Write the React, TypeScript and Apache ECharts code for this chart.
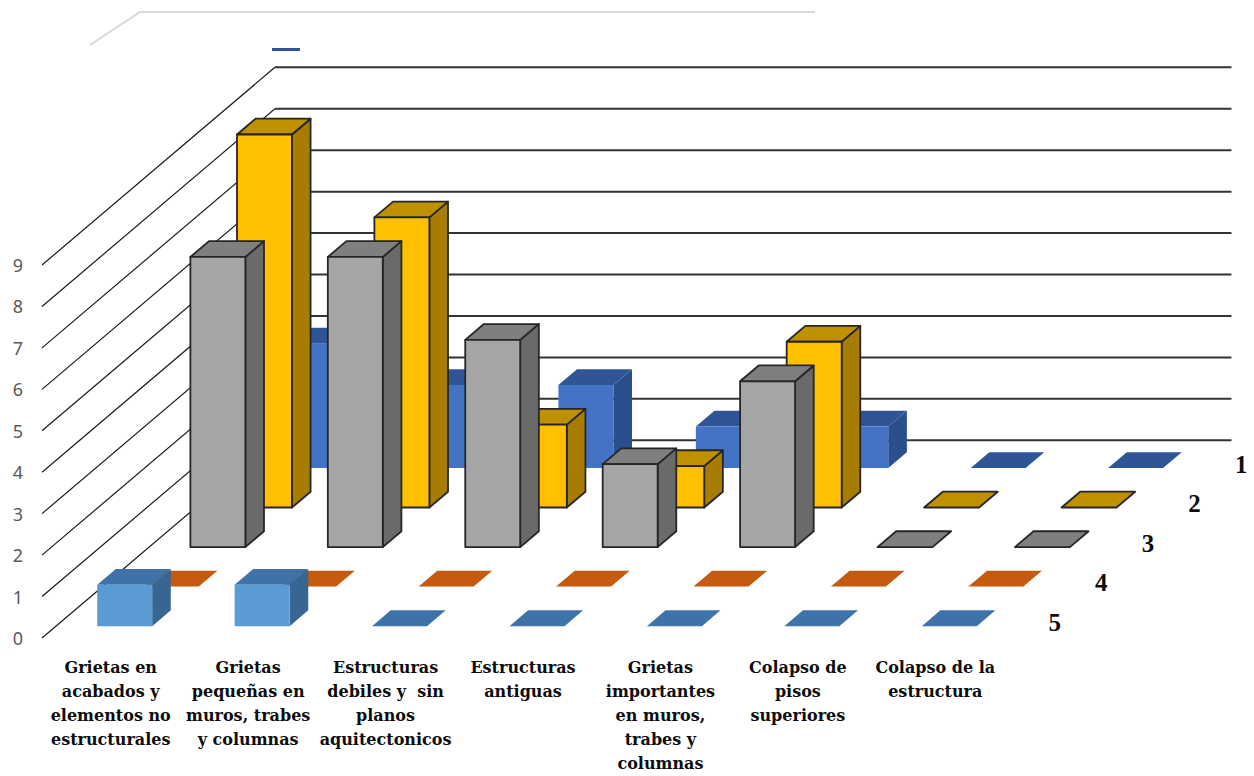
import { useEffect, useRef } from "react";
import * as echarts from "echarts";

// Categories along the front (x) axis; line breaks are the printed ones.
const categories = [
  "Grietas en\nacabados y\nelementos no\nestructurales",
  "Grietas\npequeñas en\nmuros, trabes\ny columnas",
  "Estructuras\ndebiles y  sin\nplanos\naquitectonicos",
  "Estructuras\nantiguas",
  "Grietas\nimportantes\nen muros,\ntrabes y\ncolumnas",
  "Colapso de\npisos\nsuperiores",
  "Colapso de la\nestructura",
];

// Depth axis series (1 = back row, 5 = front row)
const seriesNames = ["1", "2", "3", "4", "5"];
const serie1 = [3, 2, 2, 1, 1, 0, 0];
const serie2 = [9, 7, 2, 1, 4, 0, 0];
const serie3 = [7, 7, 5, 2, 4, 0, 0];
const serie4 = [0, 0, 0, 0, 0, 0, 0];
const serie5 = [1, 1, 0, 0, 0, 0, 0];
const allSeries = [serie1, serie2, serie3, serie4, serie5];

const valueTicks = [0, 1, 2, 3, 4, 5, 6, 7, 8, 9];

// Face colours for each series: front, top, right side, outline
const faces = [
  { front: "#4472C4", top: "#2F5597", side: "#2B4E8C", stroke: "" },
  { front: "#FFC000", top: "#BF9000", side: "#A67D00", stroke: "#262626" },
  { front: "#A5A5A5", top: "#7F7F7F", side: "#6A6A6A", stroke: "#262626" },
  { front: "#ED7D31", top: "#C55A11", side: "#AE4F0F", stroke: "" },
  { front: "#5B9BD5", top: "#3E72A8", side: "#386692", stroke: "" },
];

// Oblique projection of the depth axis: one row moves this many
// category widths to the right and value units upwards.
const DEPTH_X = 0.339;
const DEPTH_Y = 0.954;
const ROWS = 5;
const ROW_FRONT = 0.3; // box front inside its row
const ROW_BACK = 0.7; // box back inside its row
const HALF_BAR = 0.2; // half bar width in category widths
const WALL_END = 0.46; // back wall reach past the last category centre

export default function App() {
  const ref = useRef<HTMLDivElement>(null);

  useEffect(() => {
    if (!ref.current) return;
    const chart = echarts.init(ref.current, undefined, { renderer: "svg" });

    const project = (api: any, i: number, dc: number, d: number, v: number) => {
      const p = api.coord([i, v]);
      const catW = api.size([1, 0])[0];
      const unitH = api.size([0, 1])[1];
      return [p[0] + (dc + d * DEPTH_X) * catW, p[1] - d * DEPTH_Y * unitH];
    };

    // Boxes ordered back to front, left to right, so nearer ones paint over.
    const boxData: number[][] = [];
    allSeries.forEach((vals, s) => {
      vals.forEach((v, i) => {
        boxData.push([i, v, ROWS - 1 - s, s]);
      });
    });

    const wallData = valueTicks.map((t) => [0, t]);
    const labelData = seriesNames.map((n, s) => [categories.length - 1, 0, ROWS - 1 - s, n]);

    chart.setOption({
      animation: false,
      grid: { left: 42, top: 265, width: 962, height: 373 },
      xAxis: {
        type: "category",
        data: categories,
        axisLine: { show: false },
        axisTick: { show: false },
        splitLine: { show: false },
        axisLabel: {
          interval: 0,
          margin: 17,
          fontFamily: "DejaVu Serif",
          fontWeight: "bold",
          fontSize: 16,
          lineHeight: 24,
          color: "#0d0d0d",
        },
      },
      yAxis: {
        type: "value",
        min: 0,
        max: 9,
        interval: 1,
        axisLine: { show: false },
        axisTick: { show: false },
        splitLine: { show: false },
        axisLabel: {
          margin: 19,
          fontFamily: "Noto Sans",
          fontSize: 18,
          color: "#595959",
          padding: [5, 0, 0, 0],
        },
      },
      graphic: [
        {
          type: "polyline",
          shape: { points: [[90, 45], [140, 12], [815, 12]] },
          style: { stroke: "#d9d9d9", lineWidth: 2, fill: null },
          silent: true,
        },
        {
          type: "rect",
          shape: { x: 272, y: 48, width: 28, height: 3 },
          style: { fill: "#2F5597" },
          silent: true,
        },
      ],
      series: [
        {
          // side wall diagonals and back wall gridlines
          type: "custom",
          clip: false,
          silent: true,
          data: wallData,
          renderItem: (params: any, api: any) => {
            const t = api.value(1);
            const last = categories.length - 1;
            const a = project(api, 0, -0.5, 0, t);
            const b = project(api, 0, -0.5, ROWS, t);
            const c = project(api, last, WALL_END, ROWS, t);
            return {
              type: "group",
              children: [
                {
                  type: "line",
                  shape: { x1: a[0], y1: a[1], x2: b[0], y2: b[1] },
                  style: { stroke: "#1a1a1a", lineWidth: 1.2 },
                },
                {
                  type: "line",
                  shape: { x1: b[0], y1: b[1], x2: c[0], y2: c[1] },
                  style: { stroke: "#333333", lineWidth: 2 },
                },
              ],
            };
          },
        },
        {
          type: "custom",
          clip: false,
          silent: true,
          data: boxData,
          renderItem: (params: any, api: any) => {
            const i = api.value(0);
            const v = api.value(1);
            const k = api.value(2);
            const s = api.value(3);
            const f = faces[s];
            const d0 = k + ROW_FRONT;
            const d1 = k + ROW_BACK;
            const P = (dc: number, d: number, val: number) => project(api, i, dc, d, val);
            const L = -HALF_BAR;
            const R = HALF_BAR;
            const stroke = f.stroke || undefined;
            const lw = f.stroke ? 1.8 : 0;
            const top = {
              type: "polygon",
              shape: { points: [P(L, d0, v), P(R, d0, v), P(R, d1, v), P(L, d1, v)] },
              style: { fill: f.top, stroke, lineWidth: lw, lineJoin: "round" },
            };
            if (v <= 0) return { type: "group", children: [top] };
            const front = {
              type: "polygon",
              shape: { points: [P(L, d0, 0), P(R, d0, 0), P(R, d0, v), P(L, d0, v)] },
              style: { fill: f.front, stroke, lineWidth: lw, lineJoin: "round" },
            };
            const side = {
              type: "polygon",
              shape: { points: [P(R, d0, 0), P(R, d1, 0), P(R, d1, v), P(R, d0, v)] },
              style: { fill: f.side, stroke, lineWidth: lw, lineJoin: "round" },
            };
            return { type: "group", children: [side, top, front] };
          },
        },
        {
          // depth axis labels
          type: "custom",
          clip: false,
          silent: true,
          data: labelData,
          renderItem: (params: any, api: any) => {
            const i = api.value(0);
            const k = api.value(2);
            const name = seriesNames[ROWS - 1 - k];
            const p = project(api, i, 0.7, k + 0.5, 0);
            return {
              type: "text",
              x: p[0],
              y: p[1] + 4,
              style: {
                text: name,
                fontFamily: "Liberation Serif",
                fontWeight: "bold",
                fontSize: 25,
                fill: "#0d0d0d",
                align: "center",
                verticalAlign: "middle",
              },
            };
          },
        },
      ],
    });

    return () => chart.dispose();
  }, []);

  return (
    <div
      ref={ref}
      style={{ position: "fixed", left: 0, top: 0, width: 1254, height: 776, background: "#fff" }}
    />
  );
}
